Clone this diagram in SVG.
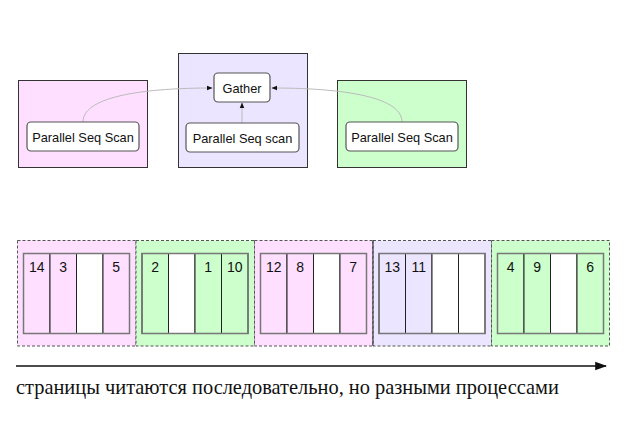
<svg xmlns="http://www.w3.org/2000/svg" width="638" height="426" viewBox="0 0 638 426">
<style>
.grp{stroke:#333;stroke-width:1}
.node{fill:#fff;stroke:#555;stroke-width:1.2}
.lbl{font-family:"Liberation Sans",Arial,sans-serif;font-size:12.8px;fill:#111;text-anchor:middle}
.num{font-family:"Liberation Sans",Arial,sans-serif;font-size:14px;fill:#111;text-anchor:middle}
.edge{fill:none;stroke:#bbb;stroke-width:1}
.outer{stroke:#555;stroke-width:1;stroke-dasharray:3,2}
.page{fill:none;stroke:#777;stroke-width:1.5}
.cell{stroke:#222;stroke-width:1}
.pk{fill:#ffdfff}.gr{fill:#ccffcc}.pu{fill:#ece5ff}.wh{fill:#fff}
</style>
<defs>
<marker id="ah" viewBox="0 0 10 10" refX="9" refY="5" markerWidth="6" markerHeight="6" orient="auto">
<path d="M0,1 L10,5 L0,9 z" fill="#111"/>
</marker>
<marker id="big" viewBox="0 0 10 10" refX="9" refY="5" markerWidth="8" markerHeight="8" orient="auto">
<path d="M0,1.5 L10,5 L0,8.5 z" fill="#111"/>
</marker>
</defs>

<g id="cluster-left"><rect class="grp pk" x="18.5" y="80.5" width="129" height="87"/></g>
<g id="cluster-mid"><rect class="grp pu" x="178.5" y="53.5" width="129" height="114"/></g>
<g id="cluster-right"><rect class="grp gr" x="337.5" y="80.5" width="129" height="87"/></g>

<g id="edges">
<path class="edge" d="M83,122 C83,95 150,88 212,88" marker-end="url(#ah)"/>
<path class="edge" d="M402,122 C402,95 335,88 272,88" marker-end="url(#ah)"/>
<path class="edge" d="M242,123 L242,103" marker-end="url(#ah)"/>
</g>

<g id="gather"><rect class="node" x="214" y="73" width="56" height="29" rx="4"/><text class="lbl" x="242" y="92.5">Gather</text></g>
<g id="pss-left"><rect class="node" x="27" y="122" width="112" height="29" rx="4"/><text class="lbl" x="83" y="141.5">Parallel Seq Scan</text></g>
<g id="pss-mid"><rect class="node" x="186" y="123" width="113" height="29" rx="4"/><text class="lbl" x="242.5" y="142.5">Parallel Seq scan</text></g>
<g id="pss-right"><rect class="node" x="346" y="122" width="112" height="29" rx="4"/><text class="lbl" x="402" y="141.5">Parallel Seq Scan</text></g>

<g id="block1">
<rect class="outer pk" x="17.5" y="240.5" width="118.5" height="105.5"/>
<rect class="cell pk" x="23.5" y="253.5" width="26.5" height="80"/>
<rect class="cell pk" x="50" y="253.5" width="26.5" height="80"/>
<rect class="cell wh" x="76.5" y="253.5" width="26.5" height="80"/>
<rect class="cell pk" x="103" y="253.5" width="26.5" height="80"/>
<rect class="page" x="23.5" y="253.5" width="106" height="80"/>
<text class="num" x="36.75" y="272">14</text><text class="num" x="63.25" y="272">3</text><text class="num" x="116.25" y="272">5</text>
</g>
<g id="block2">
<rect class="outer gr" x="136" y="240.5" width="118.5" height="105.5"/>
<rect class="cell gr" x="142" y="253.5" width="26.5" height="80"/>
<rect class="cell wh" x="168.5" y="253.5" width="26.5" height="80"/>
<rect class="cell gr" x="195" y="253.5" width="26.5" height="80"/>
<rect class="cell gr" x="221.5" y="253.5" width="26.5" height="80"/>
<rect class="page" x="142" y="253.5" width="106" height="80"/>
<text class="num" x="155.25" y="272">2</text><text class="num" x="208.25" y="272">1</text><text class="num" x="234.75" y="272">10</text>
</g>
<g id="block3">
<rect class="outer pk" x="254.5" y="240.5" width="118.5" height="105.5"/>
<rect class="cell pk" x="260.5" y="253.5" width="26.5" height="80"/>
<rect class="cell pk" x="287" y="253.5" width="26.5" height="80"/>
<rect class="cell wh" x="313.5" y="253.5" width="26.5" height="80"/>
<rect class="cell pk" x="340" y="253.5" width="26.5" height="80"/>
<rect class="page" x="260.5" y="253.5" width="106" height="80"/>
<text class="num" x="273.75" y="272">12</text><text class="num" x="300.25" y="272">8</text><text class="num" x="353.25" y="272">7</text>
</g>
<g id="block4">
<rect class="pu" x="373" y="240.5" width="118.5" height="105.5" stroke="#555" stroke-width="1" stroke-dasharray="3,2"/>
<line x1="373" y1="240.5" x2="373" y2="346" stroke="#333" stroke-width="1"/>
<rect class="cell pu" x="379" y="253.5" width="26.5" height="80"/>
<rect class="cell pu" x="405.5" y="253.5" width="26.5" height="80"/>
<rect class="cell wh" x="432" y="253.5" width="26.5" height="80"/>
<rect class="cell wh" x="458.5" y="253.5" width="26.5" height="80"/>
<rect class="page" x="379" y="253.5" width="106" height="80"/>
<text class="num" x="392.25" y="272">13</text><text class="num" x="418.75" y="272">11</text>
</g>
<g id="block5">
<rect class="outer gr" x="491.5" y="240.5" width="118" height="105.5"/>
<rect class="cell gr" x="497.5" y="253.5" width="26.5" height="80"/>
<rect class="cell gr" x="524" y="253.5" width="26.5" height="80"/>
<rect class="cell wh" x="550.5" y="253.5" width="26.5" height="80"/>
<rect class="cell gr" x="577" y="253.5" width="26.5" height="80"/>
<rect class="page" x="497.5" y="253.5" width="106" height="80"/>
<text class="num" x="510.75" y="272">4</text><text class="num" x="537.25" y="272">9</text><text class="num" x="590.25" y="272">6</text>
</g>

<g id="axis">
<line x1="16" y1="366" x2="606" y2="366" stroke="#111" stroke-width="1.5" marker-end="url(#big)"/>
<text x="16" y="394" font-family="'Liberation Serif','Times New Roman',serif" font-size="20.4" fill="#111">страницы читаются последовательно, но разными процессами</text>
</g>
</svg>
